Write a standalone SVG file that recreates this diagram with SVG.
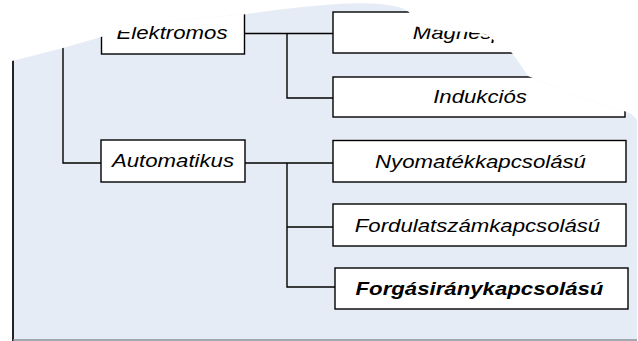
<svg xmlns="http://www.w3.org/2000/svg" width="638" height="341" viewBox="0 0 638 341">
  <style>
    .box { fill: #ffffff; stroke: #000000; stroke-width: 1.4; }
    .wire { fill: none; stroke: #000000; stroke-width: 1.4; }
    .lbl { font-family: "Liberation Sans", Arial, sans-serif; font-size: 18.5px; font-style: italic; fill: #000000; text-anchor: middle; }
    .bold { font-weight: bold; }
  </style>
  <defs>
    <!-- torn sheet outline: everything is drawn inside it -->
    <clipPath id="sheet">
      <path d="M12,61 L63,48 L101,37 L110,33.5 L122,30 Q150,23 200,18 L244,14.5 Q300,6 345,3.5 Q385,2 402,8 L409,12 L413,26 L425,28 L445,31 L470,32 L485,34 L495,41 L505,46 L512,53 L520,64 L528,76 Q580,98 620,110 Q632,112 637,120 L637,341 L12,341 Z"/>
    </clipPath>
  </defs>

  <g clip-path="url(#sheet)">
    <!-- sheet background -->
    <rect x="0" y="0" width="638" height="341" fill="#e6ecf6"/>
    <line x1="13" y1="0" x2="13" y2="341" stroke="#000000" stroke-width="1.7"/>
    <line x1="13" y1="340" x2="637" y2="340" stroke="#8a9099" stroke-width="1.6"/>

    <g id="connectors">
      <path class="wire" d="M101,33.5 H63 V163 H101"/>
      <path class="wire" d="M244.5,33.5 H333 M287,33.5 V98 H333"/>
      <path class="wire" d="M245,163 H333 M287,163 V287 H335 M287,227 H333"/>
    </g>

    <g id="elektromos">
      <rect class="box" x="101.5" y="12" width="143" height="42"/>
      <text class="lbl" transform="translate(172,39) scale(1.2,1)">Elektromos</text>
    </g>
    <g id="magnesporos">
      <rect class="box" x="333" y="12" width="292" height="41"/>
      <text class="lbl" transform="translate(480,39.3) scale(1.2,1)">Mágnesporos</text>
    </g>
    <g id="indukcios">
      <rect class="box" x="333" y="77" width="292" height="40"/>
      <text class="lbl" transform="translate(480,102.5) scale(1.2,1)">Indukciós</text>
    </g>
    <g id="automatikus">
      <rect class="box" x="101" y="140" width="144" height="42"/>
      <text class="lbl" transform="translate(173,167) scale(1.2,1)">Automatikus</text>
    </g>
    <g id="nyomatekkapcsolasu">
      <rect class="box" x="333" y="140.5" width="293" height="41.5"/>
      <text class="lbl" transform="translate(480.5,167.5) scale(1.2,1)">Nyomatékkapcsolású</text>
    </g>
    <g id="fordulatszamkapcsolasu">
      <rect class="box" x="333" y="204" width="293" height="42"/>
      <text class="lbl" transform="translate(477.5,231.5) scale(1.2,1)">Fordulatszámkapcsolású</text>
    </g>
    <g id="forgasiranykapcsolasu">
      <rect class="box" x="335" y="268" width="293" height="41"/>
      <text class="lbl bold" transform="translate(479.5,295) scale(1.2,1)">Forgásiránykapcsolású</text>
    </g>
  </g>
</svg>
